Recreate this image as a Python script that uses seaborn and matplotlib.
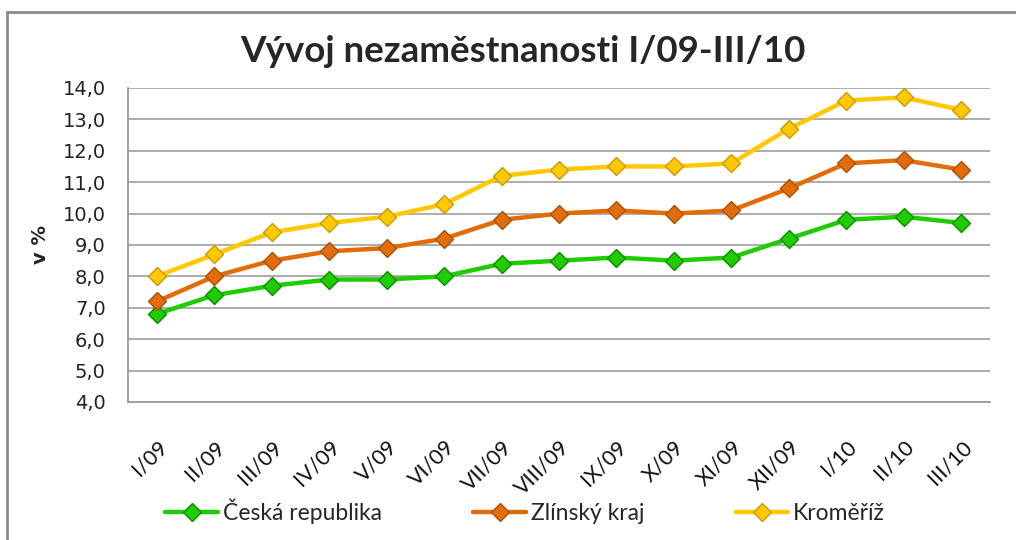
import matplotlib
matplotlib.use("Agg")
import matplotlib.pyplot as plt
import seaborn as sns
import pandas as pd
from matplotlib.patches import Rectangle
from matplotlib.ticker import FixedLocator

months = ["I/09", "II/09", "III/09", "IV/09", "V/09", "VI/09", "VII/09", "VIII/09",
          "IX/09", "X/09", "XI/09", "XII/09", "I/10", "II/10", "III/10"]
ceska_republika = [6.8, 7.4, 7.7, 7.9, 7.9, 8.0, 8.4, 8.5, 8.6, 8.5, 8.6, 9.2, 9.8, 9.9, 9.7]
zlinsky_kraj = [7.2, 8.0, 8.5, 8.8, 8.9, 9.2, 9.8, 10.0, 10.1, 10.0, 10.1, 10.8, 11.6, 11.7, 11.4]
kromeriz = [8.0, 8.7, 9.4, 9.7, 9.9, 10.3, 11.2, 11.4, 11.5, 11.5, 11.6, 12.7, 13.6, 13.7, 13.3]
series_names = ["Česká republika", "Zlínský kraj", "Kroměříž"]
y_ticks = [4, 5, 6, 7, 8, 9, 10, 11, 12, 13, 14]

colors = ["#1ECC00", "#E36C0A", "#FFC800"]
edges = ["#0E8A00", "#A8500A", "#C89A00"]

sns.set_style("white")
plt.rcParams["font.family"] = ["DejaVu Sans"]

fig = plt.figure(figsize=(10.16, 5.4), dpi=100)
ax = fig.add_axes([0.126, 0.2556, 0.8484, 0.5815])

x_idx = list(range(len(months)))
for name, vals, c, ec in zip(series_names, [ceska_republika, zlinsky_kraj, kromeriz], colors, edges):
    df = pd.DataFrame({"x": x_idx, "y": vals})
    sns.lineplot(data=df, x="x", y="y", ax=ax, color=c, lw=3.2, marker="D",
                 markersize=9, markeredgecolor=ec, markeredgewidth=1.0, label=name)

ax.set_xlim(-0.5, len(months) - 0.5)
ax.set_ylim(4, 14)
ax.set_yticks(y_ticks)
ax.set_yticklabels([f"{v:.1f}".replace(".", ",") for v in y_ticks], fontsize=14, color="#222222")
ax.set_xticks(x_idx)
ax.set_xticklabels(months, rotation=45, ha="right", rotation_mode="anchor",
                   fontsize=15.5, family="Lato", color="#111111")
ax.xaxis.set_minor_locator(FixedLocator([i - 0.5 for i in range(len(months) + 1)]))
ax.tick_params(axis="x", which="major", length=0, pad=25)
ax.tick_params(axis="x", which="minor", length=6, color="#9a9a9a", width=1.2, direction="out")
ax.tick_params(axis="y", length=6, color="#9a9a9a", width=1.2, direction="out", pad=10)
ax.grid(axis="y", color="#a6a6a6", lw=1.3)
ax.set_axisbelow(True)
for s in ["top", "right"]:
    ax.spines[s].set_visible(False)
for s in ["left", "bottom"]:
    ax.spines[s].set_color("#9a9a9a")
    ax.spines[s].set_linewidth(1.3)

ax.set_xlabel("")
ax.set_ylabel("v %", fontsize=14, fontweight="bold", labelpad=9)

fig.text(0.515, 0.905, "Vývoj nezaměstnanosti I/09-III/10", ha="center", va="center",
         fontsize=26.5, fontweight="bold", family="Lato")

handles, labels = ax.get_legend_handles_labels()
ax.legend(handles, labels, loc="center", bbox_to_anchor=(0.4606, -0.347), ncol=3, frameon=False,
          prop={"family": "Lato", "size": 16.5}, columnspacing=4.0, handlelength=2.3,
          handletextpad=0.2)

fig.patches.append(Rectangle((0.007, -0.05), 1.05, 1.027, transform=fig.transFigure,
                             fill=False, edgecolor="#8a8a8a", lw=2.0))

fig.savefig("out.png", dpi=100)
